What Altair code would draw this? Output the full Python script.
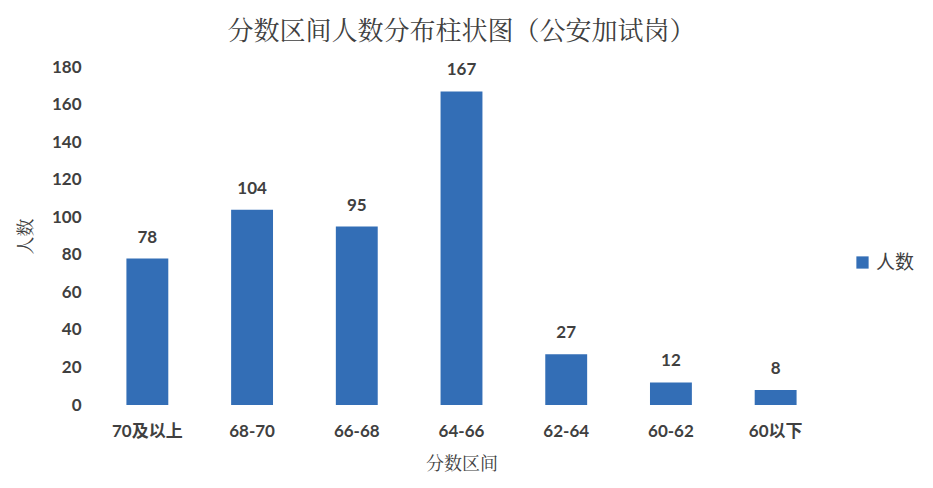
import altair as alt
import pandas as pd

categories = ["70及以上", "68-70", "66-68", "64-66", "62-64", "60-62", "60以下"]
counts = [78, 104, 95, 167, 27, 12, 8]
series = ["人数"] * len(categories)

df = pd.DataFrame({"区间": categories, "人数": counts, "系列": series})

LAT = "Lato, Noto Sans CJK SC, sans-serif"
SERIF = "Noto Serif CJK SC, Noto Sans CJK SC, serif"
BLUE = "#336EB6"
TXT = "#404040"

base = alt.Chart(df).encode(
    x=alt.X("区间:N", sort=categories, title="分数区间",
            scale=alt.Scale(paddingInner=0.6, paddingOuter=0.3),
            axis=alt.Axis(labelAngle=0, domain=False, ticks=False, labelFont=LAT,
                          labelFontWeight="bold", labelFontSize=17, labelColor=TXT,
                          labelPadding=18, titleFont=SERIF, titleFontWeight="normal",
                          titleFontSize=18, titleColor=TXT, titlePadding=16)),
    y=alt.Y("人数:Q", title="人数",
            scale=alt.Scale(domain=[0, 180]),
            axis=alt.Axis(values=list(range(0, 181, 20)), domain=False, ticks=False, grid=False,
                          labelFont=LAT, labelFontWeight="bold", labelFontSize=17,
                          labelColor=TXT, labelPadding=14, titleFont=SERIF,
                          titleFontWeight="normal", titleFontSize=18, titleColor=TXT,
                          titlePadding=16)),
)

bars = base.mark_bar(color=BLUE).encode(
    color=alt.Color("系列:N", scale=alt.Scale(range=[BLUE]),
                    legend=alt.Legend(title=None, orient="none", legendX=758, legendY=186,
                                      symbolType="square", symbolSize=150, symbolStrokeWidth=0,
                                      labelFont=LAT, labelFontSize=19, labelFontWeight="normal",
                                      labelColor=TXT))
)

labels = base.mark_text(dy=-12, baseline="bottom", font=LAT, fontSize=17,
                        fontWeight="bold", color=TXT).encode(text="人数:Q")

chart = (bars + labels).properties(
    width=733, height=338,
    autosize=alt.AutoSizeParams(type="none"),
    padding={"left": 87, "top": 59, "right": 97, "bottom": 75},
    title=alt.TitleParams("分数区间人数分布柱状图（公安加试岗）", font=SERIF, fontSize=26,
                          fontWeight="normal", color=TXT, anchor="middle", offset=13),
).configure_view(stroke=None)

chart.save("out.html", embed_options={"renderer": "svg", "actions": False})
